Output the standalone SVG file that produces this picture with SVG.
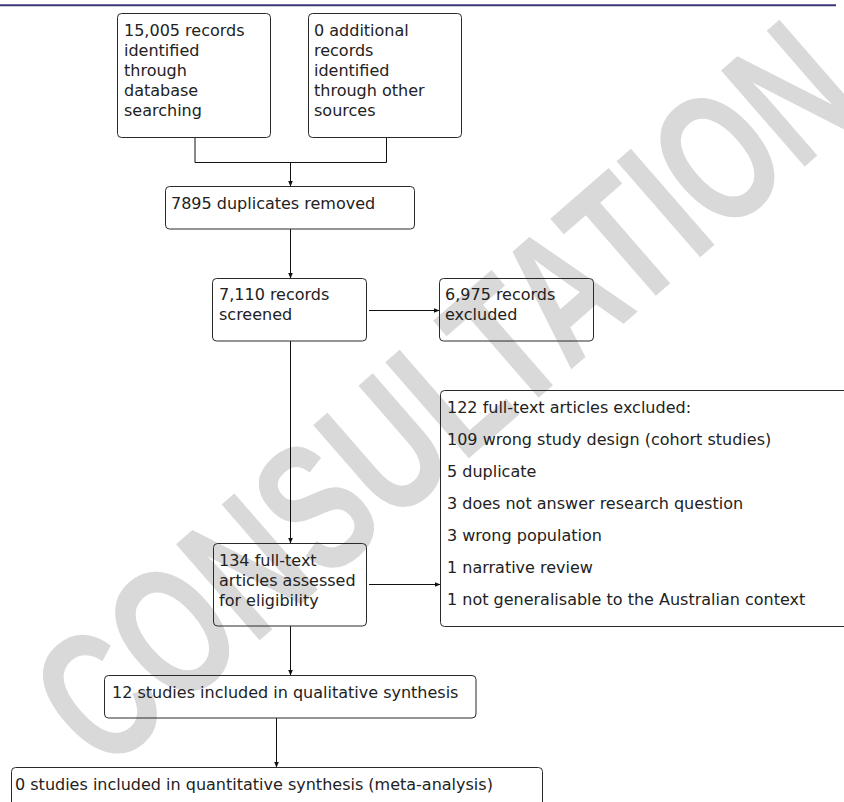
<svg xmlns="http://www.w3.org/2000/svg" width="844" height="802" viewBox="0 0 844 802">
  <style>
    .box { fill: none; stroke: #2a2a2a; stroke-width: 1; }
    .lbl { font-family: "DejaVu Sans", "Liberation Sans", sans-serif; font-size: 16px; fill: #222; }
    .edge { fill: none; stroke: #111; stroke-width: 1; }
    .arrow { marker-end: url(#head); }
    .mark { font-family: "Liberation Sans", Arial, sans-serif; font-weight: bold; font-size: 185px; fill: #d9d9d9; }
  </style>
  <defs>
    <marker id="head" markerUnits="userSpaceOnUse" markerWidth="8" markerHeight="8" refX="6" refY="3" orient="auto">
      <path d="M0,0.5 L6,3 L0,5.5 Z" fill="#111"/>
    </marker>
  </defs>

  <rect width="844" height="802" fill="#fff"/>

  <!-- watermark -->
  <g id="watermark">
    <text class="mark" transform="translate(443,392) rotate(-41) scale(0.71,1)" x="0" y="67" text-anchor="middle">CONSULTATION</text>
  </g>

  <!-- header rule -->
  <line x1="0" y1="5.3" x2="836" y2="5.3" stroke="#3b3878" stroke-width="2"/>

  <g id="connectors">
    <polyline class="edge" points="195,137.5 195,162.5 386.5,162.5 386.5,137.5"/>
    <line class="edge arrow" x1="290.5" y1="162.5" x2="290.5" y2="186.5"/>
    <line class="edge arrow" x1="290.5" y1="229" x2="290.5" y2="278.5"/>
    <line class="edge arrow" x1="369" y1="310.5" x2="439.5" y2="310.5"/>
    <line class="edge arrow" x1="290.5" y1="341" x2="290.5" y2="543.5"/>
    <line class="edge arrow" x1="369" y1="584.5" x2="440.5" y2="584.5"/>
    <line class="edge arrow" x1="290.5" y1="626" x2="290.5" y2="675.5"/>
    <line class="edge arrow" x1="276.5" y1="718" x2="276.5" y2="767.5"/>
  </g>

  <g id="db-records">
    <rect class="box" x="117.5" y="13.5" width="153" height="124" rx="4"/>
    <text class="lbl" x="124" y="36">15,005 records</text>
    <text class="lbl" x="124" y="56">identified</text>
    <text class="lbl" x="124" y="76">through</text>
    <text class="lbl" x="124" y="96">database</text>
    <text class="lbl" x="124" y="116">searching</text>
  </g>

  <g id="other-records">
    <rect class="box" x="308.5" y="13.5" width="153" height="124" rx="4"/>
    <text class="lbl" x="314" y="36">0 additional</text>
    <text class="lbl" x="314" y="56">records</text>
    <text class="lbl" x="314" y="76">identified</text>
    <text class="lbl" x="314" y="96">through other</text>
    <text class="lbl" x="314" y="116">sources</text>
  </g>

  <g id="duplicates">
    <rect class="box" x="165.5" y="186.5" width="249" height="42.5" rx="4"/>
    <text class="lbl" x="171" y="208.5">7895 duplicates removed</text>
  </g>

  <g id="screened">
    <rect class="box" x="212.5" y="278.5" width="154" height="62.5" rx="4"/>
    <text class="lbl" x="219" y="300">7,110 records</text>
    <text class="lbl" x="219" y="320">screened</text>
  </g>

  <g id="excluded">
    <rect class="box" x="439.5" y="278.5" width="154" height="62.5" rx="4"/>
    <text class="lbl" x="445" y="300">6,975 records</text>
    <text class="lbl" x="445" y="320">excluded</text>
  </g>

  <g id="fulltext">
    <rect class="box" x="213.5" y="543.5" width="153" height="82.5" rx="4"/>
    <text class="lbl" x="219" y="566">134 full-text</text>
    <text class="lbl" x="219" y="586">articles assessed</text>
    <text class="lbl" x="219" y="606">for eligibility</text>
  </g>

  <g id="fulltext-excluded">
    <rect class="box" x="440.5" y="390.5" width="420" height="236" rx="4"/>
    <text class="lbl" x="447" y="413">122 full-text articles excluded:</text>
    <text class="lbl" x="447" y="445">109 wrong study design (cohort studies)</text>
    <text class="lbl" x="447" y="477">5 duplicate</text>
    <text class="lbl" x="447" y="509">3 does not answer research question</text>
    <text class="lbl" x="447" y="541">3 wrong population</text>
    <text class="lbl" x="447" y="573">1 narrative review</text>
    <text class="lbl" x="447" y="605">1 not generalisable to the Australian context</text>
  </g>

  <g id="qualitative">
    <rect class="box" x="104.5" y="675.5" width="371.5" height="42.5" rx="4"/>
    <text class="lbl" x="112" y="698">12 studies included in qualitative synthesis</text>
  </g>

  <g id="quantitative">
    <rect class="box" x="11.5" y="767.5" width="531" height="60" rx="4"/>
    <text class="lbl" x="15" y="790">0 studies included in quantitative synthesis (meta-analysis)</text>
  </g>
</svg>
